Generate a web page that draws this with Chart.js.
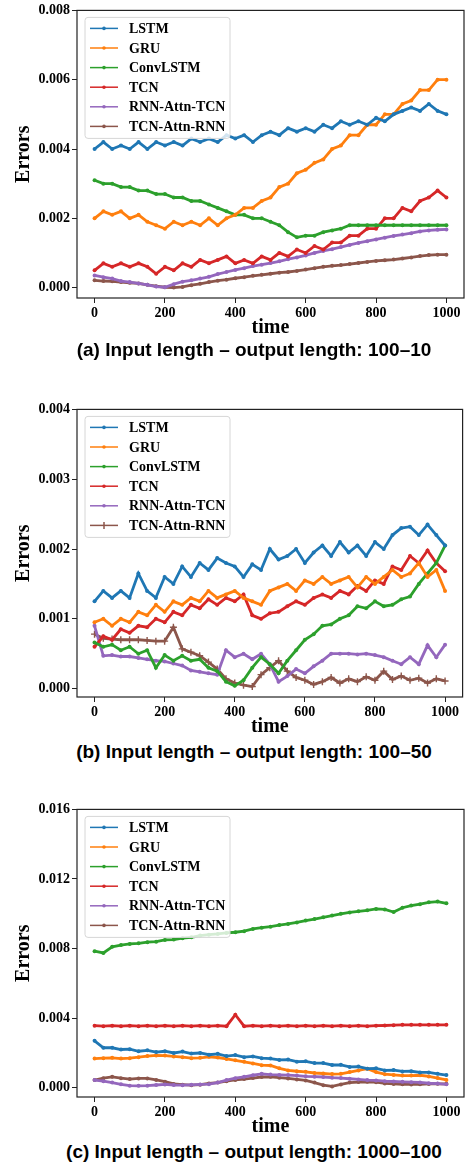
<!DOCTYPE html>
<html>
<head>
<meta charset="utf-8">
<script src="https://cdn.jsdelivr.net/npm/chart.js@4.4.0/dist/chart.umd.min.js"></script>
<style>
  body { margin: 0; background: #fff; width: 468px; height: 1163px; position: relative; overflow: hidden; }
  .panel { position: absolute; left: 0; width: 468px; height: 340px; }
  .caption { position: absolute; left: 0; width: 508px; text-align: center; line-height: 20px;
             font: bold 19px "Liberation Sans", Arial, sans-serif; color: #000; white-space: nowrap; }
</style>
</head>
<body>
<div class="panel" style="top:0"><canvas id="chartA" width="468" height="340"></canvas></div>
<div class="caption" style="top:339px">(a) Input length – output length: 100–10</div>
<div class="panel" style="top:399px"><canvas id="chartB" width="468" height="340"></canvas></div>
<div class="caption" style="top:741px">(b) Input length – output length: 100–50</div>
<div class="panel" style="top:799px"><canvas id="chartC" width="468" height="340"></canvas></div>
<div class="caption" style="top:1141px">(c) Input length – output length: 1000–100</div>
<script>
const time = [0, 25, 50, 75, 100, 125, 150, 175, 200, 225, 250, 275, 300, 325, 350, 375, 400, 425, 450, 475,
  500, 525, 550, 575, 600, 625, 650, 675, 700, 725, 750, 775, 800, 825, 850, 875, 900, 925, 950, 975, 1000];
const models = ['LSTM', 'GRU', 'ConvLSTM', 'TCN', 'RNN-Attn-TCN', 'TCN-Attn-RNN'];
const colors = ['#1f77b4', '#ff7f0e', '#2ca02c', '#d62728', '#9467bd', '#8c564b'];

// (a) input 100 -> output 10
const lstmA = [0.0040, 0.0042, 0.0040, 0.0041, 0.0040, 0.0042, 0.0040, 0.0042, 0.0041, 0.0042, 0.0041, 0.0043, 0.0042, 0.0043,
  0.0042, 0.0044, 0.0043, 0.0044, 0.0042, 0.0044, 0.0045, 0.0044, 0.0046, 0.0045, 0.0046, 0.0045, 0.0047, 0.0046, 0.0048,
  0.0047, 0.0048, 0.0047, 0.0049, 0.0048, 0.0050, 0.0051, 0.0052, 0.0051, 0.0053, 0.0051, 0.0050];
const gruA = [0.0020, 0.0022, 0.0021, 0.0022, 0.0020, 0.0021, 0.0019, 0.0018, 0.0017, 0.0019, 0.0018, 0.0019, 0.0018, 0.0020,
  0.0018, 0.0020, 0.0021, 0.0023, 0.0023, 0.0025, 0.0026, 0.0029, 0.0030, 0.0033, 0.0034, 0.0036, 0.0037, 0.0040, 0.0041,
  0.0044, 0.0044, 0.0047, 0.0047, 0.0050, 0.0050, 0.0053, 0.0054, 0.0057, 0.0057, 0.0060, 0.0060];
const convA = [0.0031, 0.0030, 0.0030, 0.0029, 0.0029, 0.0028, 0.0028, 0.0027, 0.0027, 0.0026, 0.0026, 0.0025, 0.0025, 0.0024,
  0.0023, 0.0022, 0.0021, 0.0021, 0.0020, 0.0020, 0.0019, 0.0018, 0.0016, 0.00145, 0.0015, 0.0015, 0.0016, 0.00165, 0.0017,
  0.0018, 0.0018, 0.0018, 0.0018, 0.0018, 0.0018, 0.0018, 0.0018, 0.0018, 0.0018, 0.0018, 0.0018];
const tcnA = [0.0005, 0.0007, 0.0006, 0.0007, 0.0006, 0.0007, 0.0006, 0.0004, 0.0006, 0.0005, 0.0007, 0.0006, 0.0008, 0.0007,
  0.0008, 0.0009, 0.0007, 0.0008, 0.0007, 0.0009, 0.0008, 0.0010, 0.0009, 0.0011, 0.0010, 0.0012, 0.0011, 0.0013, 0.0013,
  0.0015, 0.0015, 0.0017, 0.0017, 0.0020, 0.0020, 0.0023, 0.0022, 0.0025, 0.0026, 0.0028, 0.0026];
const rnnAttnA = [0.00035, 0.0003, 0.00026, 0.00019, 0.00016, 0.00012, 0.00008, 0.00003, 0.00001, 0.0001, 0.00017, 0.00021,
  0.00026, 0.00031, 0.00039, 0.00045, 0.00051, 0.00056, 0.00062, 0.00066, 0.00071, 0.00076, 0.00082, 0.00087, 0.00093, 0.001,
  0.00106, 0.00111, 0.00117, 0.00123, 0.00129, 0.00134, 0.00139, 0.00144, 0.00149, 0.00153, 0.00157, 0.00162, 0.00165,
  0.00167, 0.00168];
const tcnAttnA = [0.00021, 0.00019, 0.00018, 0.00016, 0.00014, 0.00012, 0.00008, 0.00004, 0.00001, 0.0, 0.00002, 0.00007,
  0.00011, 0.00016, 0.0002, 0.00023, 0.00027, 0.0003, 0.00034, 0.00037, 0.0004, 0.00043, 0.00045, 0.00048, 0.00052, 0.00056,
  0.0006, 0.00063, 0.00065, 0.00068, 0.00071, 0.00074, 0.00077, 0.00079, 0.00081, 0.00084, 0.00087, 0.00091, 0.00094,
  0.00095, 0.00095];

// (b) input 100 -> output 50
const lstmB = [0.00125, 0.0014, 0.0013, 0.0014, 0.0013, 0.00165, 0.0014, 0.0013, 0.0016, 0.0015, 0.00175, 0.0016, 0.0018,
  0.0017, 0.00187, 0.0018, 0.00175, 0.0016, 0.00178, 0.0017, 0.002, 0.00185, 0.0019, 0.002, 0.0018, 0.00195, 0.00205, 0.0019,
  0.0021, 0.00195, 0.00205, 0.0019, 0.0021, 0.002, 0.0022, 0.0023, 0.00232, 0.0022, 0.00235, 0.0022, 0.00205];
const gruB = [0.00095, 0.001, 0.0009, 0.001, 0.00095, 0.0011, 0.00105, 0.0012, 0.0011, 0.00125, 0.0012, 0.0013, 0.00125,
  0.0014, 0.0013, 0.00135, 0.0014, 0.0013, 0.00125, 0.0012, 0.0014, 0.00145, 0.0015, 0.0014, 0.00155, 0.0015, 0.0016, 0.0015,
  0.00155, 0.0016, 0.00145, 0.0016, 0.0015, 0.0016, 0.0017, 0.0016, 0.00165, 0.0018, 0.0016, 0.0017, 0.0014];
const convB = [0.00066, 0.0006, 0.00063, 0.00055, 0.0006, 0.0005, 0.00055, 0.0003, 0.00048, 0.0004, 0.00047, 0.0004, 0.00042,
  0.0003, 0.00025, 0.0001, 0.00004, 0.00012, 0.0003, 0.00045, 0.00035, 0.00022, 0.0004, 0.00055, 0.0007, 0.00078, 0.0009,
  0.00092, 0.001, 0.00105, 0.00118, 0.00115, 0.00125, 0.00118, 0.0012, 0.00128, 0.00132, 0.0015, 0.00165, 0.0018, 0.00205];
const tcnB = [0.0006, 0.00075, 0.0007, 0.00085, 0.0008, 0.0009, 0.00088, 0.001, 0.00095, 0.0011, 0.00105, 0.0012, 0.00115,
  0.00128, 0.0012, 0.0013, 0.00125, 0.00135, 0.00105, 0.001, 0.00108, 0.0011, 0.00118, 0.00125, 0.0012, 0.0013, 0.00135,
  0.0013, 0.0014, 0.00135, 0.00147, 0.0014, 0.00155, 0.0015, 0.00175, 0.0017, 0.0019, 0.0018, 0.00198, 0.0018, 0.00168];
const rnnAttnB = [0.0009, 0.00047, 0.00048, 0.00046, 0.00046, 0.00044, 0.00042, 0.0004, 0.00039, 0.00036, 0.00033, 0.00026,
  0.00024, 0.00022, 0.0002, 0.00055, 0.00045, 0.0005, 0.00042, 0.0005, 0.00035, 0.0001, 0.00018, 0.00028, 0.00022, 0.00032,
  0.0004, 0.0005, 0.0005, 0.0005, 0.00049, 0.0005, 0.00048, 0.00045, 0.0004, 0.00035, 0.00045, 0.00035, 0.00062, 0.00045,
  0.00063];
const tcnAttnB = [0.00078, 0.00072, 0.00071, 0.0007, 0.0007, 0.0007, 0.00069, 0.00068, 0.00068, 0.00088, 0.00057, 0.00052,
  0.00047, 0.00038, 0.00028, 0.00014, 0.00008, 0.00005, 0.00003, 0.0002, 0.0003, 0.0004, 0.00025, 0.00016, 0.00012, 0.00006,
  0.0001, 0.00016, 0.00008, 0.00014, 0.0001, 0.00017, 0.00012, 0.00025, 0.00013, 0.00018, 0.00012, 0.00015, 0.00008, 0.00014,
  0.00011];

// (c) input 1000 -> output 100
const lstmC = [0.0027, 0.0023, 0.0023, 0.0022, 0.00222, 0.0021, 0.00215, 0.00205, 0.0021, 0.002, 0.00208, 0.00197, 0.002,
  0.0019, 0.00195, 0.00182, 0.00188, 0.00176, 0.0018, 0.0017, 0.00168, 0.0016, 0.00162, 0.0015, 0.00152, 0.00142, 0.00142,
  0.00131, 0.00132, 0.0012, 0.00122, 0.0011, 0.00112, 0.001, 0.00102, 0.00094, 0.00095, 0.00088, 0.00088, 0.0008, 0.00073];
const gruC = [0.00168, 0.0017, 0.00172, 0.00168, 0.0017, 0.00176, 0.00182, 0.00186, 0.00185, 0.0018, 0.00176, 0.0017, 0.00172,
  0.00178, 0.00174, 0.00166, 0.00158, 0.00149, 0.0014, 0.0013, 0.00128, 0.00112, 0.001, 0.00095, 0.00092, 0.00085, 0.00082,
  0.00079, 0.0008, 0.0009, 0.001, 0.0011, 0.0009, 0.00078, 0.00074, 0.0007, 0.0007, 0.00072, 0.00065, 0.00056, 0.00045];
const convC = [0.00785, 0.00775, 0.0081, 0.0082, 0.00827, 0.0083, 0.00837, 0.0084, 0.0085, 0.00852, 0.0086, 0.00865, 0.00875,
  0.0088, 0.00884, 0.0089, 0.00894, 0.009, 0.00913, 0.0092, 0.00926, 0.00935, 0.00942, 0.0095, 0.00961, 0.0097, 0.0098,
  0.0099, 0.01, 0.01008, 0.01014, 0.0102, 0.01028, 0.01025, 0.0101, 0.01035, 0.01047, 0.01055, 0.01066, 0.0107, 0.0106];
const tcnC = [0.00357, 0.00354, 0.00357, 0.00354, 0.00357, 0.00354, 0.00357, 0.00354, 0.00357, 0.00354, 0.00357, 0.00354,
  0.00357, 0.00354, 0.00357, 0.00354, 0.0042, 0.00354, 0.00357, 0.00354, 0.00357, 0.00354, 0.00357, 0.00354, 0.00357,
  0.00354, 0.00357, 0.00354, 0.00357, 0.00354, 0.00357, 0.00354, 0.00357, 0.00358, 0.0036, 0.00362, 0.00362, 0.00362,
  0.00362, 0.00362, 0.00362];
const rnnAttnC = [0.00044, 0.00038, 0.0003, 0.0002, 0.00012, 0.00011, 0.00012, 0.00016, 0.00019, 0.00016, 0.00015, 0.00017,
  0.00019, 0.00021, 0.0003, 0.00044, 0.00055, 0.00063, 0.00072, 0.0008, 0.00076, 0.00074, 0.00073, 0.0007, 0.00066, 0.00064,
  0.00062, 0.00058, 0.00056, 0.00052, 0.00048, 0.00044, 0.00042, 0.00038, 0.00036, 0.00034, 0.00032, 0.00031, 0.00026,
  0.00024, 0.0002];
const tcnAttnC = [0.00044, 0.00055, 0.00063, 0.00055, 0.0005, 0.00054, 0.00054, 0.00045, 0.00035, 0.00022, 0.00018, 0.00015,
  0.00018, 0.00025, 0.0003, 0.00038, 0.00045, 0.0005, 0.00056, 0.00062, 0.00063, 0.00058, 0.00054, 0.00048, 0.00042, 0.0003,
  0.00015, 0.00008, 0.00019, 0.0003, 0.00033, 0.00034, 0.00032, 0.00025, 0.00022, 0.0002, 0.00019, 0.0002, 0.00022, 0.00023,
  0.00023];

Chart.defaults.color = '#000';
Chart.defaults.font.family = '"Liberation Serif", "Times New Roman", serif';
Chart.defaults.font.weight = 'bold';

// full box around the plot area (matplotlib spines)
const framePlugin = {
  id: 'frame',
  afterDatasetsDraw(chart) {
    const { ctx, chartArea: a } = chart;
    ctx.save();
    ctx.strokeStyle = '#222';
    ctx.lineWidth = 1.2;
    ctx.strokeRect(a.left, a.top, a.right - a.left, a.bottom - a.top);
    ctx.restore();
  }
};

// legend drawn inside the upper-left corner
const boxLegend = {
  id: 'boxLegend',
  afterDatasetsDraw(chart) {
    const { ctx, chartArea: a } = chart;
    const x = a.left + 8, y = a.top + 7, w = 145, h = 121;
    ctx.save();
    ctx.beginPath();
    ctx.roundRect(x, y, w, h, 3);
    ctx.fillStyle = 'rgba(255,255,255,0.8)';
    ctx.fill();
    ctx.strokeStyle = '#d6d6d6';
    ctx.lineWidth = 1;
    ctx.stroke();
    chart.data.datasets.forEach((ds, i) => {
      const cy = y + 11 + i * 19.6;
      ctx.strokeStyle = ds.borderColor;
      ctx.lineWidth = 1.5;
      ctx.beginPath();
      ctx.moveTo(x + 5, cy);
      ctx.lineTo(x + 33, cy);
      ctx.stroke();
      if (ds.pointStyle === 'cross') {
        ctx.beginPath();
        ctx.moveTo(x + 19, cy - 3.5); ctx.lineTo(x + 19, cy + 3.5);
        ctx.stroke();
      } else {
        ctx.fillStyle = ds.borderColor;
        ctx.beginPath();
        ctx.arc(x + 19, cy, 1.8, 0, Math.PI * 2);
        ctx.fill();
      }
      ctx.fillStyle = '#000';
      ctx.font = 'bold 14px "Liberation Serif", "Times New Roman", serif';
      ctx.textBaseline = 'middle';
      ctx.fillText(ds.label, x + 44, cy + 1);
    });
    ctx.restore();
  }
};

function makePanel(id, series, yMin, yMax, yStep, crossLast) {
  new Chart(id, {
    type: 'line',
    data: {
      labels: time,
      datasets: series.map((vals, i) => ({
        label: models[i],
        data: vals,
        borderColor: colors[i],
        backgroundColor: colors[i],
        borderWidth: 2.8,
        pointRadius: crossLast && i === 5 ? 3.5 : 2,
        pointStyle: crossLast && i === 5 ? 'cross' : 'circle',
        pointBorderWidth: crossLast && i === 5 ? 1.4 : 0,
        pointBorderColor: colors[i],
        pointBackgroundColor: colors[i],
        tension: 0,
        fill: false
      }))
    },
    options: {
      responsive: false,
      animation: false,
      layout: { padding: { left: 0, right: 4, top: 10, bottom: 0 } },
      plugins: { legend: { display: false }, tooltip: { enabled: false } },
      scales: {
        x: {
          type: 'linear',
          min: -50,
          max: 1050,
          grid: { display: true, drawOnChartArea: false, drawTicks: true, tickLength: 5, color: '#222' },
          border: { display: false },
          ticks: { stepSize: 200, includeBounds: false, padding: 2, font: { size: 14 }, callback: v => String(v) },
          title: { display: true, text: 'time', font: { size: 20 }, padding: { top: 0, bottom: 0 } },
          afterFit(axis) { axis.height = 42; }
        },
        y: {
          min: yMin,
          max: yMax,
          grid: { display: true, drawOnChartArea: false, drawTicks: true, tickLength: 5, color: '#222' },
          border: { display: false },
          ticks: {
            stepSize: yStep,
            includeBounds: false,
            padding: 2,
            font: { size: 14 },
            callback: v => (Math.abs(v) < 1e-9 ? 0 : v).toFixed(3)
          },
          title: { display: true, text: 'Errors', font: { size: 20 }, padding: { top: 12, bottom: 0 } },
          afterFit(axis) { axis.width = 77; }
        }
      }
    },
    plugins: [framePlugin, boxLegend]
  });
}

makePanel('chartA', [lstmA, gruA, convA, tcnA, rnnAttnA, tcnAttnA], -0.0003, 0.008, 0.002, false);
makePanel('chartB', [lstmB, gruB, convB, tcnB, rnnAttnB, tcnAttnB], -0.00012, 0.004, 0.001, true);
makePanel('chartC', [lstmC, gruC, convC, tcnC, rnnAttnC, tcnAttnC], -0.00053, 0.016, 0.004, false);
</script>
</body>
</html>
